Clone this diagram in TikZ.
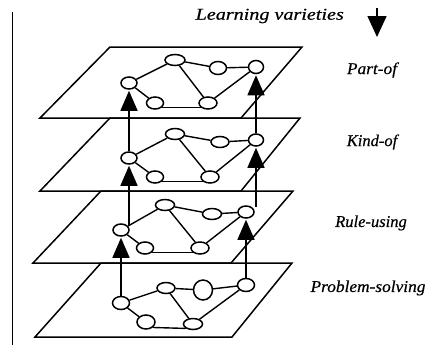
\documentclass[tikz,border=0pt]{standalone}
\usepackage{fontspec}
\setmainfont{Liberation Serif}
\newfontfamily\lblfont{Liberation Serif}[ItalicFont={Liberation Serif Italic},ItalicFeatures={FakeBold=0.5}]
\usetikzlibrary{arrows.meta,shapes.geometric}
\begin{document}
\begin{tikzpicture}[x=1pt,y=-1pt,
  plane/.style={line width=1.5pt,line join=miter},
  nd/.style={ellipse,draw,fill=white,line width=1.5pt,inner sep=0pt},
  lnk/.style={line width=1.4pt},
  up/.style={line width=1.4pt,-{Triangle[width=17pt,length=20pt]},shorten >=1pt},
  lbl/.style={font=\lblfont\fontsize{16.5}{19}\selectfont\itshape,inner sep=0pt}]
\useasboundingbox (0,0) rectangle (428,346);
% left rule
\draw[line width=1.9pt] (12.5,12) -- (12.5,345);
% planes
\draw[plane] (110,47) -- (302,47) -- (241,118) -- (40,118) -- cycle;
\draw[plane] (110,118) -- (300,118) -- (241,191) -- (40,191) -- cycle;
\draw[plane] (101,191) -- (293,191) -- (231,263) -- (33,263) -- cycle;
\draw[plane] (101,263) -- (292,263) -- (232,337) -- (35,337) -- cycle;
% plane 1 nodes
\node[nd,minimum width=16pt,minimum height=12pt] (a1) at (129,83) {};
\node[nd,minimum width=20pt,minimum height=11pt] (a2) at (175,60) {};
\node[nd,minimum width=17pt,minimum height=13pt] (a3) at (218,68) {};
\node[nd,minimum width=15pt,minimum height=13pt] (a4) at (256,67) {};
\node[nd,minimum width=17pt,minimum height=12pt] (a5) at (155,103) {};
\node[nd,minimum width=18pt,minimum height=12pt] (a6) at (208,103) {};
% plane 2 nodes
\node[nd,minimum width=16pt,minimum height=12pt] (b1) at (129,158) {};
\node[nd,minimum width=19pt,minimum height=11pt] (b2) at (175,134) {};
\node[nd,minimum width=18pt,minimum height=11pt] (b3) at (220,142) {};
\node[nd,minimum width=15pt,minimum height=12pt] (b4) at (256,140) {};
\node[nd,minimum width=17pt,minimum height=12pt] (b5) at (155,177) {};
\node[nd,minimum width=18pt,minimum height=12pt] (b6) at (210,177) {};
% plane 3 nodes
\node[nd,minimum width=16pt,minimum height=12pt] (c1) at (121,230) {};
\node[nd,minimum width=19pt,minimum height=11pt] (c2) at (165,205) {};
\node[nd,minimum width=19pt,minimum height=11pt] (c3) at (212,214) {};
\node[nd,minimum width=16pt,minimum height=12pt] (c4) at (246,212) {};
\node[nd,minimum width=17pt,minimum height=12pt] (c5) at (145,248) {};
\node[nd,minimum width=18pt,minimum height=12pt] (c6) at (200,248) {};
% plane 4 nodes
\node[nd,minimum width=17pt,minimum height=13pt] (d1) at (121,303) {};
\node[nd,minimum width=18pt,minimum height=11pt] (d2) at (166,288) {};
\node[nd,minimum width=19pt,minimum height=20pt] (d3) at (203,290) {};
\node[nd,minimum width=17pt,minimum height=13pt] (d4) at (246,285) {};
\node[nd,minimum width=18pt,minimum height=14pt] (d5) at (146,322) {};
\node[nd,minimum width=19pt,minimum height=11pt] (d6) at (193,324) {};
% links within planes
\foreach \p in {a,b,c,d}{
  \draw[lnk] (\p1) -- (\p2);
  \draw[lnk] (\p2) -- (\p3);
  \draw[lnk] (\p3) -- (\p4);
  \draw[lnk] (\p2) -- (\p6);
  \draw[lnk] (\p1) -- (\p5);
  \draw[lnk] (\p5.south east) -- (\p6.south west);
  \draw[lnk] (\p6) -- (\p4);
}
% vertical arrows between planes
\draw[up] (b1.north) -- (a1.south);
\draw[up] (c1.north east -| b1.south) -- (b1.south);
\draw[up] (d1.north) -- (c1.south);
\draw[up] (b4.north) -- (a4.south);
\draw[up] (c4.north east -| b4.south) -- (b4.south);
\draw[up] (d4.north) -- (c4.south);
% title and its arrow
\node[lbl,anchor=east] (lv) at (344,16) {\scalebox{1.22}[1]{Learning varieties}};
\coordinate (ta) at (377,8);
\coordinate (tb) at (377,37);
\draw[line width=1.5pt,-{Triangle[width=19pt,length=21pt]}] (ta) -- (tb);
% labels
\node[lbl] (l1) at (372,70) {\scalebox{1.05}[1]{Part-of}};
\node[lbl] (l2) at (372,142) {\scalebox{1.0}[1]{Kind-of}};
\node[lbl] (l3) at (371,223) {\scalebox{1.0}[1]{Rule-using}};
\node[lbl] (l4) at (368,288) {\scalebox{1.05}[1]{Problem-solving}};
\end{tikzpicture}
\end{document}
